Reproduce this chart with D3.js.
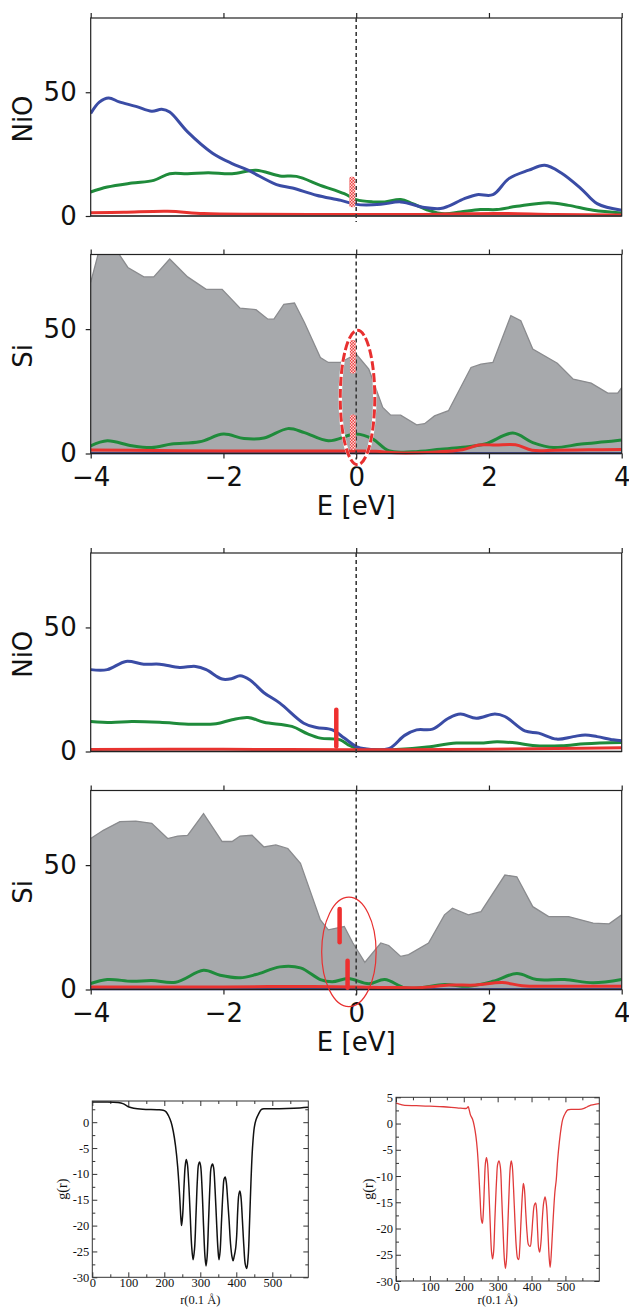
<!DOCTYPE html>
<html><head><meta charset="utf-8">
<script src="https://cdn.jsdelivr.net/npm/d3@7"></script>
<style>body{margin:0;background:#fff}svg{display:block}</style>
</head><body>
<svg id="c" width="629" height="1308"></svg>
<script>
// ---------------- data ----------------
const eTicks = [-4, -2, 0, 2, 4];
const dosTicks = [0, 50];

// panel 1 : NiO (top figure)
const p1Blue = [[-4,41.4],[-3.87,46],[-3.73,47.7],[-3.57,46.1],[-3.32,44.3],[-3.08,42.3],[-2.93,43.1],[-2.81,42],[-2.54,34],[-2.17,25.5],[-1.87,21.2],[-1.63,18.5],[-1.2,12.7],[-0.96,11.3],[-0.6,8.4],[-0.23,6.3],[0,4.7],[0.37,4.7],[0.67,5.7],[1.03,3.4],[1.27,3],[1.39,4],[1.63,7],[1.82,8.6],[2.06,8.6],[2.3,15.1],[2.6,18.5],[2.84,20.5],[3.09,17.4],[3.39,11],[3.63,5],[4,2.3]];
const p1Green = [[-4,9.7],[-3.75,11.7],[-3.38,13.3],[-3.05,14.4],[-2.81,17.1],[-2.54,17.1],[-2.23,17.5],[-1.87,17.1],[-1.51,18.5],[-1.15,16.2],[-0.9,16],[-0.54,12.4],[-0.18,9],[0,6.6],[0.25,5.7],[0.43,5.7],[0.67,6.7],[0.85,5],[1.09,2.3],[1.33,0.9],[1.57,1.6],[1.87,2.6],[2.12,2.6],[2.42,3.9],[2.9,5.4],[3.2,4.3],[3.57,2.3],[4,1.2]];
const p1Red = [[-4,1.3],[-3.5,1.5],[-2.84,1.9],[-2.3,1.0],[-1.5,0.7],[0,0.6],[1,0.6],[1.6,0.9],[2.2,1.0],[3,0.6],[4,0.4]];
const p1Bars = [[-0.06,3.5,15.9]];

// panel 2 : Si (top figure)
const p2Total = [[-4,68.8],[-3.87,82],[-3.62,82],[-3.44,74.8],[-3.2,71],[-3.05,71],[-2.81,78.2],[-2.54,71],[-2.26,66],[-2.02,66],[-1.75,58.4],[-1.51,57.8],[-1.33,54],[-1.24,54],[-1.09,60],[-0.93,60.5],[-0.78,52.7],[-0.54,38.6],[-0.42,36.6],[-0.24,36.6],[0,40],[0.19,33.9],[0.4,18.5],[0.52,15.4],[0.67,15.4],[0.91,11.5],[1.03,12],[1.18,15.1],[1.39,17.2],[1.73,34.6],[1.88,35.9],[2.06,36.6],[2.33,55.4],[2.48,53.4],[2.66,42],[3.03,36.3],[3.27,29.9],[3.54,28.3],[3.79,24.3],[3.94,24.3],[4,26.5]];
const p2Green = [[-4,3.1],[-3.75,5.1],[-3.38,3.1],[-3.08,2.4],[-2.78,3.8],[-2.36,4.7],[-2,7.8],[-1.69,6],[-1.39,6.2],[-1.03,10],[-0.78,8.4],[-0.42,5.1],[0,7.8],[0.25,5.8],[0.49,1.1],[0.85,0.7],[1.27,1.7],[1.57,2.4],[1.94,3.8],[2.36,8.2],[2.66,4.4],[2.97,2.4],[3.39,3.8],[3.75,4.7],[4,5.4]];
const p2Red = [[-4,1.4],[-3,1.2],[-2,1.0],[-1,1.0],[0,1.0],[0.3,0.9],[0.6,0.3],[1.2,0.6],[1.6,1.5],[1.85,3.4],[2.1,3.4],[2.4,3.5],[2.65,1.3],[3,1.3],[3.5,1.5],[4,1.6]];
const p2Blue = [[-4,0.1],[0,0.1],[4,0.1]];
const p2Bars = [[-0.05,32.2,45.6],[-0.05,1.4,15.7]];
const p2Ellipse = [0.02,22.5,0.26,27]; // E, value, rx (eV), ry (units)

// panel 3 : NiO (second figure)
const p3Blue = [[-4,33],[-3.75,33],[-3.47,36.3],[-3.2,35.2],[-2.96,35.2],[-2.66,33.9],[-2.42,34.3],[-2.26,33],[-2.02,29.2],[-1.87,29.4],[-1.75,30.5],[-1.6,28.8],[-1.39,23.7],[-1.15,19.5],[-0.79,11.4],[-0.6,9.7],[-0.36,8.7],[-0.18,5.4],[0,2],[0.13,1.1],[0.49,1.1],[0.73,6.5],[0.91,8.7],[1.15,9],[1.39,13.4],[1.57,15.1],[1.81,13.4],[2.09,15.1],[2.24,14.1],[2.54,8.3],[2.75,7.4],[3.02,5],[3.27,6],[3.45,6.7],[3.63,6],[3.87,4.7],[4,4.3]];
const p3Green = [[-4,12.1],[-3.69,11.7],[-3.38,12.1],[-2.96,11.8],[-2.48,11],[-2.11,11.2],[-1.87,12.8],[-1.63,13.7],[-1.39,11.8],[-0.97,10.1],[-0.73,7.1],[-0.54,5.4],[-0.24,4.7],[-0.12,2.7],[0,1.3],[0.37,0.7],[0.67,0.9],[1.03,1.7],[1.51,3.4],[1.87,3.4],[2.12,3.9],[2.42,3.4],[2.66,2.4],[3.09,2.3],[3.45,3.1],[4,3.6]];
const p3Red = [[-4,0.8],[-2,0.9],[0,0.7],[2,0.9],[3,1.2],[4,1.5]];
const p3Bars = [[-0.3,2,16.8]];

// panel 4 : Si (second figure)
const p4Total = [[-4,60.7],[-3.81,64],[-3.56,67.5],[-3.32,67.7],[-3.08,66.8],[-2.84,60.7],[-2.69,61.7],[-2.54,62],[-2.3,70.7],[-2.02,59.5],[-1.87,59.5],[-1.75,61.7],[-1.57,62],[-1.39,57.3],[-1.21,58.1],[-1.03,56.7],[-0.84,50.7],[-0.54,28],[-0.42,24],[-0.18,25.3],[-0.05,18.7],[0.13,10.9],[0.37,18.7],[0.49,17.7],[0.67,13.3],[0.79,14],[1.09,18.7],[1.33,30],[1.45,32.7],[1.69,30],[1.88,31.3],[2.24,46],[2.42,45.3],[2.66,33.3],[2.9,29.3],[3.2,29.3],[3.57,26.7],[3.81,26.4],[4,30]];
const p4Green = [[-4,2.4],[-3.75,4],[-3.38,3.3],[-3.08,3.6],[-2.72,2.9],[-2.3,7.7],[-2.05,5.7],[-1.75,4.7],[-1.51,6],[-1.15,9.1],[-0.84,8.7],[-0.54,4],[-0.36,3.1],[-0.12,4.4],[0.19,2.3],[0.43,4],[0.73,0.7],[0.97,0.7],[1.33,2],[1.69,1.3],[2.06,3.3],[2.42,6.4],[2.72,4],[3.14,4],[3.57,2.7],[4,4]];
const p4Red = [[-4,1.0],[-2,1.0],[-1,1.2],[0,1.0],[0.5,0.8],[1.0,0.8],[1.4,1.8],[1.8,1.8],[2.2,2.8],[2.5,1.5],[3,1.3],[4,1.3]];
const p4Blue = [[-4,0.1],[0,0.1],[4,0.1]];
const p4Bars = [[-0.25,19,32.4],[-0.13,0.7,11.6]];
const p4Ellipse = [-0.11,15.1,0.41,22];

// g(r) plots
const rTicks = [0,100,200,300,400,500];
const rMinor = [50,150,250,350,450,550];
const g1Ticks = [0,-5,-10,-15,-20,-25,-30];
const g2Ticks = [5,0,-5,-10,-15,-20,-25,-30];
const gMinor = [2.5,-2.5,-7.5,-12.5,-17.5,-22.5,-27.5];
const gr1 = [[0,3.9],[40,3.9],[70,3.8],[85,3.6],[100,3.0],[115,2.7],[140,2.5],[180,2.4],[197,2.3],[205,2.0],[212,1.2],[219,0.0],[225,-1.8],[231,-4.5],[237,-8.5],[242,-13.5],[246,-18.5],[248,-20],[251,-18],[255,-12],[258,-8.5],[261,-7.2],[264,-8],[268,-12],[272,-18],[276,-24],[280,-26.6],[284,-24.5],[288,-18],[292,-11],[295,-8.2],[298,-7.7],[301,-8.5],[305,-13],[309,-20],[313,-26],[316,-27.8],[319,-26],[323,-19],[327,-12],[330,-8.8],[334,-8.1],[337,-8.8],[341,-13],[345,-19],[349,-24.5],[352,-26.6],[355,-25],[359,-19],[363,-13.5],[366,-11],[369,-10.6],[372,-11.5],[376,-15],[380,-19],[384,-23.5],[388,-26],[391,-26.8],[394,-26],[398,-24.5],[401,-22],[404,-17],[407,-14],[410,-13.3],[413,-14.5],[417,-19],[421,-24],[425,-27.5],[429,-28.3],[433,-26],[437,-19],[441,-11],[445,-5],[450,-1.0],[455,0.5],[462,1.6],[470,2.5],[480,2.6],[520,2.6],[560,2.7],[600,2.9]];
const gr2 = [[0,3.9],[10,3.7],[22,3.5],[60,3.4],[100,3.3],[140,3.2],[180,3.0],[208,2.9],[213,3.2],[216,2.6],[220,1.6],[226,0.8],[231,-0.5],[236,-2.5],[240,-5],[244,-9],[248,-14],[252,-18.3],[255,-19],[258,-16.5],[261,-11.5],[264,-7.5],[267,-6.5],[270,-7.5],[274,-12.5],[278,-19],[282,-24.5],[285,-25.8],[288,-24.5],[292,-18],[297,-10.5],[300,-7.8],[304,-7.1],[308,-8.3],[312,-14],[316,-20.5],[320,-26],[323,-27.6],[326,-26],[330,-19.5],[334,-12.5],[337,-8.5],[340,-7.1],[343,-8],[347,-12.5],[351,-18.5],[355,-23.5],[359,-25.7],[362,-25.9],[365,-24],[369,-18.5],[373,-13.5],[376,-11.4],[379,-12.5],[383,-17],[387,-21],[391,-23.1],[396,-23.4],[400,-21.5],[404,-18],[408,-15.6],[412,-15.1],[415,-16.5],[418,-20.5],[421,-23.8],[424,-24.5],[428,-22.5],[432,-18],[436,-15],[440,-14],[444,-15.5],[448,-20],[452,-25.5],[455,-27.4],[459,-24],[464,-18],[469,-13],[473,-10.7],[477,-7],[482,-3.6],[487,-1],[492,0.8],[500,2.0],[507,2.6],[520,2.7],[540,2.7],[555,2.9],[565,3.2],[575,3.5],[590,3.7],[600,3.8]];

// ---------------- drawing ----------------
const svg = d3.select('#c');
const defs = svg.append('defs');
const pat = defs.append('pattern').attr('id','chk').attr('width',3).attr('height',3).attr('patternUnits','userSpaceOnUse');
pat.append('rect').attr('width',3).attr('height',3).attr('fill','#ee4444');
pat.append('rect').attr('width',1.5).attr('height',1.5).attr('fill','#fcd6d6');
pat.append('rect').attr('x',1.5).attr('y',1.5).attr('width',1.5).attr('height',1.5).attr('fill','#fcd6d6');

const COL = {blue:'#3a4ca5', green:'#1f8b3b', red:'#e8332f', navy:'#1c2670', fill:'#a7a9ac', edge:'#8a8b8e'};
const FONT = 'DejaVu Sans, sans-serif';
const X0 = 90.7, X1 = 621.7;
const x = d3.scaleLinear().domain([-4,4]).range([X0,X1]);

const panels = [
  {top:18, bottom:216, label:'NiO', blue:p1Blue, green:p1Green, red:p1Red, bars:p1Bars, barStyle:'hatch', base:'#666'},
  {top:254.5, bottom:453.5, label:'Si', total:p2Total, blue:p2Blue, green:p2Green, red:p2Red, bars:p2Bars, barStyle:'hatch', ellipse:p2Ellipse, ellStyle:'dash', xLabels:true},
  {top:553, bottom:751.5, label:'NiO', blue:p3Blue, green:p3Green, red:p3Red, bars:p3Bars, barStyle:'solid', base:'#666'},
  {top:790.5, bottom:989.5, label:'Si', total:p4Total, blue:p4Blue, green:p4Green, red:p4Red, bars:p4Bars, barStyle:'solid', ellipse:p4Ellipse, ellStyle:'thin', xLabels:true}
];

panels.forEach((p,i) => {
  const y = d3.scaleLinear().domain([0,80]).range([p.bottom, p.top]);
  const g = svg.append('g');
  const cid = 'clip'+i;
  defs.append('clipPath').attr('id',cid).append('rect')
    .attr('x',X0).attr('y',p.top).attr('width',X1-X0).attr('height',p.bottom-p.top+3);
  const body = g.append('g').attr('clip-path',`url(#${cid})`);
  const line = d3.line().x(d=>x(d[0])).y(d=>y(d[1])).curve(d3.curveCatmullRom.alpha(0.5));
  if (p.total) {
    const area = d3.area().x(d=>x(d[0])).y0(y(0)).y1(d=>y(d[1])).curve(d3.curveLinear);
    body.append('path').datum(p.total).attr('d',area).attr('fill',COL.fill);
    body.append('path').datum(p.total).attr('d',d3.line().x(d=>x(d[0])).y(d=>y(d[1]))).attr('fill','none').attr('stroke',COL.edge).attr('stroke-width',1.3);
  }
  if (p.base) {
    g.append('line').attr('x1',X0).attr('x2',X1).attr('y1',y(0)).attr('y2',y(0)).attr('stroke',p.base).attr('stroke-width',1.5);
  }
  const isSi = !!p.total;
  body.append('path').datum(p.green).attr('d',line).attr('fill','none').attr('stroke',COL.green).attr('stroke-width',3);
  body.append('path').datum(p.blue).attr('d',line).attr('fill','none').attr('stroke',isSi?COL.navy:COL.blue).attr('stroke-width',isSi?2:3);
  body.append('path').datum(p.red).attr('d',line).attr('fill','none').attr('stroke',COL.red).attr('stroke-width',3);

  // frame
  g.append('rect').attr('x',X0).attr('y',p.top).attr('width',X1-X0).attr('height',p.bottom-p.top)
    .attr('fill','none').attr('stroke','#222').attr('stroke-width',1.2);
  // Fermi level
  g.append('line').attr('x1',x(0)).attr('x2',x(0)).attr('y1',p.top).attr('y2',p.bottom+6)
    .attr('stroke','#3a3a3a').attr('stroke-width',1.6).attr('stroke-dasharray','4,3');

  // axes
  const ax = g.append('g').attr('transform',`translate(${X0},0)`)
    .call(d3.axisLeft(y).tickValues(dosTicks).tickSize(5).tickSizeOuter(0).tickPadding(9));
  ax.select('.domain').remove();
  ax.selectAll('text').attr('font-family',FONT).attr('font-size',26).attr('fill','#111');
  ax.selectAll('line').attr('stroke','#222').attr('stroke-width',1.2);
  const at = g.append('g').attr('transform',`translate(0,${p.top})`)
    .call(d3.axisTop(x).tickValues(eTicks).tickSize(5).tickSizeOuter(0).tickFormat(''));
  at.select('.domain').remove();
  at.selectAll('line').attr('stroke','#222').attr('stroke-width',1.2);
  if (p.xLabels) {
    const ab = g.append('g').attr('transform',`translate(0,${p.bottom})`)
      .call(d3.axisBottom(x).tickValues(eTicks).tickSize(5).tickSizeOuter(0).tickPadding(9));
    ab.select('.domain').remove();
    ab.selectAll('text').attr('font-family',FONT).attr('font-size',26).attr('fill','#111');
    ab.selectAll('line').attr('stroke','#222').attr('stroke-width',1.2);
    g.append('text').attr('x',x(0)).attr('y',p.bottom+61.5).attr('text-anchor','middle')
      .attr('font-family',FONT).attr('font-size',26).attr('fill','#111').text('E [eV]');
  }
  g.append('text').attr('transform',`translate(23,${(p.top+p.bottom)/2+2}) rotate(-90)`)
    .attr('text-anchor','middle').attr('dominant-baseline','central')
    .attr('font-family',FONT).attr('font-size',26).attr('fill','#111').text(p.label);

  // highlight bars
  p.bars.forEach(b => {
    if (p.barStyle==='hatch') {
      g.append('rect').attr('x',x(b[0])-3).attr('width',6).attr('y',y(b[2])).attr('height',y(b[1])-y(b[2]))
        .attr('rx',2).attr('fill','url(#chk)');
    } else {
      g.append('line').attr('x1',x(b[0])).attr('x2',x(b[0])).attr('y1',y(b[1])).attr('y2',y(b[2]))
        .attr('stroke','#ee3030').attr('stroke-width',4.5).attr('stroke-linecap','round');
    }
  });
  if (p.ellipse) {
    const e = p.ellipse;
    const cx = x(e[0]), cy = y(e[1]), rx = x(e[0]+e[2])-cx, ry = cy - y(e[1]+e[3]);
    if (p.ellStyle==='dash') {
      g.append('ellipse').attr('cx',cx).attr('cy',cy).attr('rx',rx).attr('ry',ry)
        .attr('fill','none').attr('stroke','#fff').attr('stroke-width',3.5);
      g.append('ellipse').attr('cx',cx).attr('cy',cy).attr('rx',rx).attr('ry',ry)
        .attr('fill','none').attr('stroke','#e83030').attr('stroke-width',3).attr('stroke-dasharray','9,3');
    } else {
      g.append('ellipse').attr('cx',cx).attr('cy',cy).attr('rx',rx).attr('ry',ry)
        .attr('fill','none').attr('stroke','#e83030').attr('stroke-width',1.2);
    }
  }
});

// ---- g(r) plots ----
const SERIF = 'Liberation Serif, Times New Roman, serif';
function grPlot(cfg) {
  const gx = d3.scaleLinear().domain([0,600]).range([cfg.l, cfg.r]);
  const gy = d3.scaleLinear().domain(cfg.yDom).range([cfg.b, cfg.t]);
  const g = svg.append('g');
  const minorY = gMinor.filter(v => v>cfg.yDom[0] && v<cfg.yDom[1]);
  function style(sel){ sel.select('.domain').remove(); sel.selectAll('line').attr('stroke','#333').attr('stroke-width',1);
    sel.selectAll('text').attr('font-family',SERIF).attr('font-size',12.5).attr('fill','#111'); }
  style(g.append('g').attr('transform',`translate(0,${cfg.b})`).call(d3.axisBottom(gx).tickValues(rTicks).tickSize(-5).tickPadding(1).tickFormat(d=>String(d))));
  style(g.append('g').attr('transform',`translate(0,${cfg.b})`).call(d3.axisBottom(gx).tickValues(rMinor).tickSize(-3).tickFormat('')));
  style(g.append('g').attr('transform',`translate(0,${cfg.t})`).call(d3.axisTop(gx).tickValues(rTicks).tickSize(-5).tickFormat('')));
  style(g.append('g').attr('transform',`translate(0,${cfg.t})`).call(d3.axisTop(gx).tickValues(rMinor).tickSize(-3).tickFormat('')));
  style(g.append('g').attr('transform',`translate(${cfg.l},0)`).call(d3.axisLeft(gy).tickValues(cfg.ticks).tickSize(-5).tickPadding(3).tickFormat(d=>String(d))));
  style(g.append('g').attr('transform',`translate(${cfg.l},0)`).call(d3.axisLeft(gy).tickValues(minorY).tickSize(-3).tickFormat('')));
  style(g.append('g').attr('transform',`translate(${cfg.r},0)`).call(d3.axisRight(gy).tickValues(cfg.ticks).tickSize(-5).tickFormat('')));
  style(g.append('g').attr('transform',`translate(${cfg.r},0)`).call(d3.axisRight(gy).tickValues(minorY).tickSize(-3).tickFormat('')));
  g.append('path').datum(cfg.data)
    .attr('d', d3.line().x(d=>gx(d[0])).y(d=>gy(d[1])).curve(d3.curveCatmullRom.alpha(0.5)))
    .attr('fill','none').attr('stroke',cfg.color).attr('stroke-width',cfg.w);
  g.append('rect').attr('x',cfg.l).attr('y',cfg.t).attr('width',cfg.r-cfg.l).attr('height',cfg.b-cfg.t)
    .attr('fill','none').attr('stroke','#333').attr('stroke-width',1);
  g.append('text').attr('transform',`translate(${cfg.yl},${(cfg.t+cfg.b)/2}) rotate(-90)`)
    .attr('text-anchor','middle').attr('dominant-baseline','central')
    .attr('font-family',SERIF).attr('font-size',14).attr('fill','#111').text('g(r)');
  g.append('text').attr('x',(cfg.l+cfg.r)/2).attr('y',1304).attr('text-anchor','middle')
    .attr('font-family',SERIF).attr('font-size',12.5).attr('fill','#111').text('r(0.1 Å)');
}
grPlot({l:92.3, r:308.3, t:1101, b:1277.3, yDom:[-30,4.1], ticks:g1Ticks, data:gr1, color:'#111', w:1.5, yl:62.5});
grPlot({l:396, r:599.3, t:1097.3, b:1281, yDom:[-30,5], ticks:g2Ticks, data:gr2, color:'#e03a3a', w:1.3, yl:368});
</script>
</body></html>
